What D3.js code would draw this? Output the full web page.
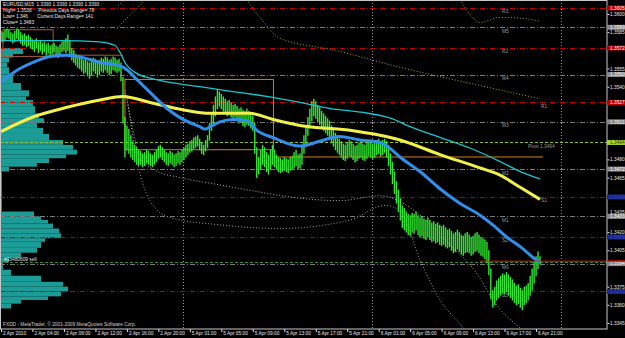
<!DOCTYPE html>
<html>
<head>
<meta charset="utf-8">
<script src="https://cdnjs.cloudflare.com/ajax/libs/d3/7.8.5/d3.min.js"></script>
<style>
  html, body { margin: 0; padding: 0; background: #000; }
  svg { display: block; }
  text { font-family: "Liberation Sans", Arial, sans-serif; }
</style>
</head>
<body>
<div id="chart"></div>
<script>
// EURUSD M15, 2 - 6 Apr 2010, one value per 15 minute bar
var barHigh = [
  1.3586,1.3585,1.3587,1.3588,1.3587,1.3585,1.3584,1.3586,1.3588,1.3587,1.3585,1.3583,1.3584,1.3582,1.3583,1.3581,
  1.3579,1.3578,1.3580,1.3577,1.3578,1.3576,1.3577,1.3575,1.3576,1.3574,1.3575,1.3576,1.3574,1.3573,1.3575,1.3577,
  1.3578,1.3580,1.3583,1.3578,1.3572,1.3570,1.3567,1.3565,1.3566,1.3564,1.3562,1.3563,1.3561,1.3560,1.3562,1.3564,
  1.3563,1.3561,1.3562,1.3564,1.3563,1.3565,1.3564,1.3562,1.3563,1.3565,1.3564,1.3562,1.3563,1.3560,1.3548,1.3515,
  1.3508,1.3505,1.3500,1.3495,1.3492,1.3490,1.3488,1.3487,1.3485,1.3486,1.3488,1.3487,1.3485,1.3484,1.3486,1.3488,
  1.3491,1.3492,1.3490,1.3488,1.3486,1.3485,1.3487,1.3486,1.3484,1.3485,1.3487,1.3486,1.3488,1.3490,1.3492,1.3493,
  1.3495,1.3496,1.3498,1.3499,1.3500,1.3497,1.3494,1.3492,1.3496,1.3500,1.3510,1.3518,1.3525,1.3532,1.3538,1.3536,
  1.3534,1.3532,1.3530,1.3528,1.3529,1.3527,1.3525,1.3526,1.3524,1.3522,1.3523,1.3521,1.3520,1.3522,1.3520,1.3518,
  1.3516,1.3510,1.3490,1.3482,1.3488,1.3492,1.3490,1.3486,1.3484,1.3488,1.3492,1.3488,1.3484,1.3482,1.3481,1.3480,
  1.3482,1.3481,1.3480,1.3482,1.3483,1.3486,1.3488,1.3484,1.3485,1.3492,1.3500,1.3508,1.3515,1.3522,1.3528,1.3530,
  1.3528,1.3525,1.3523,1.3520,1.3518,1.3516,1.3514,1.3512,1.3508,1.3505,1.3502,1.3500,1.3497,1.3495,1.3493,1.3492,
  1.3494,1.3496,1.3495,1.3493,1.3491,1.3492,1.3494,1.3495,1.3493,1.3492,1.3494,1.3496,1.3495,1.3493,1.3494,1.3496,
  1.3497,1.3495,1.3496,1.3497,1.3495,1.3492,1.3485,1.3478,1.3470,1.3462,1.3455,1.3448,1.3442,1.3440,1.3437,1.3435,
  1.3434,1.3436,1.3435,1.3437,1.3434,1.3432,1.3433,1.3431,1.3430,1.3432,1.3430,1.3428,1.3429,1.3427,1.3428,1.3426,
  1.3425,1.3426,1.3424,1.3422,1.3423,1.3421,1.3419,1.3420,1.3422,1.3420,1.3418,1.3417,1.3419,1.3420,1.3418,1.3416,
  1.3417,1.3419,1.3420,1.3418,1.3416,1.3415,1.3414,1.3412,1.3405,1.3390,1.3372,1.3375,1.3380,1.3382,1.3384,1.3386,
  1.3385,1.3387,1.3385,1.3383,1.3381,1.3378,1.3376,1.3377,1.3374,1.3372,1.3375,1.3376,1.3378,1.3384,1.3390,1.3396,
  1.3400,1.3404,1.3400
];
var barLow = [
  1.3578,1.3577,1.3579,1.3581,1.3580,1.3578,1.3576,1.3577,1.3580,1.3579,1.3576,1.3574,1.3575,1.3573,1.3574,1.3572,
  1.3571,1.3569,1.3572,1.3568,1.3570,1.3567,1.3569,1.3566,1.3568,1.3565,1.3567,1.3569,1.3566,1.3564,1.3567,1.3569,
  1.3570,1.3568,1.3570,1.3566,1.3562,1.3560,1.3558,1.3556,1.3555,1.3553,1.3551,1.3552,1.3549,1.3547,1.3550,1.3553,
  1.3551,1.3548,1.3550,1.3553,1.3552,1.3554,1.3552,1.3550,1.3551,1.3554,1.3553,1.3552,1.3553,1.3545,1.3510,1.3482,
  1.3488,1.3485,1.3482,1.3480,1.3478,1.3476,1.3475,1.3476,1.3474,1.3475,1.3477,1.3476,1.3475,1.3474,1.3476,1.3478,
  1.3481,1.3482,1.3480,1.3478,1.3476,1.3475,1.3477,1.3476,1.3474,1.3475,1.3477,1.3476,1.3478,1.3480,1.3482,1.3484,
  1.3486,1.3487,1.3489,1.3490,1.3491,1.3488,1.3485,1.3484,1.3487,1.3490,1.3496,1.3504,1.3510,1.3516,1.3522,1.3524,
  1.3522,1.3520,1.3518,1.3516,1.3517,1.3515,1.3514,1.3515,1.3512,1.3510,1.3511,1.3508,1.3507,1.3509,1.3508,1.3506,
  1.3504,1.3485,1.3465,1.3468,1.3472,1.3476,1.3474,1.3470,1.3468,1.3472,1.3476,1.3474,1.3472,1.3470,1.3469,1.3470,
  1.3471,1.3470,1.3469,1.3471,1.3472,1.3473,1.3475,1.3472,1.3473,1.3476,1.3485,1.3492,1.3500,1.3506,1.3512,1.3516,
  1.3514,1.3511,1.3509,1.3506,1.3504,1.3502,1.3500,1.3497,1.3494,1.3491,1.3488,1.3486,1.3484,1.3482,1.3480,1.3479,
  1.3481,1.3483,1.3482,1.3480,1.3478,1.3479,1.3481,1.3482,1.3480,1.3479,1.3481,1.3483,1.3482,1.3481,1.3482,1.3484,
  1.3485,1.3483,1.3484,1.3486,1.3482,1.3475,1.3468,1.3460,1.3452,1.3444,1.3437,1.3430,1.3424,1.3422,1.3420,1.3418,
  1.3417,1.3420,1.3419,1.3422,1.3418,1.3416,1.3417,1.3415,1.3414,1.3416,1.3414,1.3412,1.3413,1.3411,1.3412,1.3410,
  1.3409,1.3410,1.3408,1.3407,1.3408,1.3405,1.3403,1.3404,1.3406,1.3404,1.3402,1.3401,1.3403,1.3404,1.3403,1.3401,
  1.3402,1.3404,1.3405,1.3403,1.3401,1.3400,1.3398,1.3395,1.3385,1.3365,1.3358,1.3360,1.3364,1.3366,1.3368,1.3370,
  1.3369,1.3371,1.3368,1.3366,1.3364,1.3362,1.3360,1.3361,1.3358,1.3356,1.3360,1.3362,1.3364,1.3368,1.3372,1.3378,
  1.3384,1.3390,1.3394
];

// indicator lines, sampled [bar index, price]
var cyanMA = [[0,1.3578],[30,1.3578],[50,1.3577],[58,1.3574],[60.6,1.3568],[63,1.3560],[69,1.3551],[76,1.3547],
  [84.5,1.3544],[101,1.3540],[118,1.3536],[135,1.3532],[152,1.3527],[167.5,1.3522],[183,1.3519],[198,1.3514],
  [208,1.3507],[223.5,1.3498],[239,1.3489],[254,1.3478],[264,1.3470],[274,1.3464]];
var blueMA = [[0,1.3544],[8.6,1.3554],[16.3,1.3560],[25,1.3565],[33.6,1.3566],[41.7,1.3564],[50.3,1.3560],[59,1.3558],
  [64,1.3554],[69,1.3546],[76,1.3535],[84.4,1.3522],[92.5,1.3513],[101,1.3507],[103.7,1.3505],[106.3,1.3507],
  [111.3,1.3511],[118,1.3513],[125,1.3512],[130,1.3504],[138.3,1.3498],[152,1.3491],[162,1.3495],[172,1.3499],
  [182.5,1.3496],[192.7,1.3494],[197.8,1.3489],[202.8,1.3482],[213,1.3470],[223,1.3456],[233,1.3444],[243.5,1.3434],
  [250,1.3426],[257,1.3416],[264,1.3408],[270.5,1.3399],[274,1.3395]];
var yellowMA = [[0,1.3503],[16.3,1.3515],[33.6,1.3523],[50.3,1.3529],[62,1.3532],[75.8,1.3527],[92.5,1.3521],
  [106.3,1.3518],[126.6,1.3518],[138.3,1.3513],[152,1.3508],[177.4,1.3504],[202.8,1.3496],[223.2,1.3484],
  [243.5,1.3473],[253.7,1.3467],[263.9,1.3457],[274,1.3447]];

// dotted bands, several pieces each (parts run off the top or bottom of the chart)
var bandUpperOuter = [
  [[59.5,1.3607],[63,1.3613],[65.6,1.3620]],
  [[228,1.3630],[236,1.3605],[243.5,1.3593],[248.6,1.3595],[252,1.3597],[260,1.3597],[274,1.3594]]
];
var bandUpperInner = [
  [[59,1.3588],[63,1.3595],[68.1,1.3603],[73.2,1.3612],[78.3,1.3620]],
  [[121.5,1.3620],[131.7,1.3597],[141.8,1.3580],[170,1.3570],[202.8,1.3556],[243.5,1.3541],[274,1.3530]]
];
var bandLowerInner = [
  [[63,1.3537],[66.6,1.3508],[70.7,1.3481],[78.3,1.3471],[91,1.3465],[111.3,1.3459],[131.7,1.3453],[152,1.3448],
   [172.3,1.3446],[192.7,1.3450],[213,1.3434],[228.3,1.3409],[238.4,1.3393],[243.5,1.3382],[250.1,1.3364],[263.9,1.3341]]
];
var bandLowerOuter = [
  [[64,1.3533],[68.1,1.3488],[75.7,1.3446],[85.9,1.3432],[111.3,1.3426],[141.8,1.3423],[177.4,1.3430],[195.2,1.3442],
   [202.8,1.3438],[213,1.3397],[223.2,1.3364],[234.4,1.3342],[241,1.3327]]
];

// pivot levels of the previous day
var pivotNames  = ["R3","M5","R2","M4","R1","M3","Pivot","M2","S1","M1","S2","M0","S3"];
var pivotValues = [1.3605,1.3589,1.3572,1.3550,1.3527,1.3511,1.3494,1.3472,1.3449,1.3433,1.3416,1.3394,1.3371];

// session boxes [from bar, to bar, top price, bottom price]
var boxes = [[1,26.5,1.3587,1.3565],[63,138.5,1.3546,1.3488]];
var boxLines = [[26.5,62,1.3566],[138.5,275.5,1.3482]];
var boxColors = ["#a85a38", "#d08020"];

// price profile on the left edge: bin top and count, bins run down to the next top
var profileTop    = [1.3572,1.3567,1.3564,1.3560,1.3556,1.3550,1.3543,1.3537,1.3532,1.3529,1.3524,1.3518,1.3514,1.3510,
  1.3506,1.3501,1.3496,1.3492,1.3488,1.3484,1.3481,1.3477,1.3474,1.3470,1.3437,1.3433,1.3430,1.3427,1.3423,1.3419,1.3415,
  1.3412,1.3407,1.3403,1.3399,1.3395,1.3389,1.3384,1.3379,1.3375,1.3371,1.3367,1.3364,1.3361];
var profileCount  = [22,12,8,6,8,12,20,28,25,32,34,38,43,36,42,48,62,72,76,65,48,36,8,1,33,40,47,52,58,60,44,40,36,20,8,2,
  10,40,62,67,60,47,20,10];
var profileBottom = 1.3357;

// axes
var priceTicks = [1.3600,1.3585,1.3555,1.3540,1.3480,1.3465,1.3435,1.3420,1.3405,1.3375,1.3360,1.3345];
var timeTickBars = [0,16,32,48,64,80,96,112,128,144,160,176,192,208,224,240,256,272];
var timeLabels = ["2 Apr 2010","2 Apr 04:00","2 Apr 08:00","2 Apr 12:00","2 Apr 16:00","2 Apr 20:00",
  "5 Apr 01:00","5 Apr 05:00","5 Apr 09:00","5 Apr 13:00","5 Apr 17:00","5 Apr 21:00",
  "6 Apr 01:00","6 Apr 05:00","6 Apr 09:00","6 Apr 13:00","6 Apr 17:00","6 Apr 21:00"];
var daySeparators = [92.5, 188.5, 284.5];
var headerLines = ["EURUSD,M15  1.3393 1.3393 1.3393 1.3393",
  "High= 1.3538     Previous Days Range= 78",
  "Low= 1.346       Current Days Range= 141",
  "Close= 1.3483"];
var orderPrice = 1.3395, orderLabel = "#23480609 sell";
var bidPrice = 1.3396;

/* ---------- SVG ---------- */
var svgWidth = 625, svgHeight = 338;
var plotRight = 607, plotBottom = 329;

var svg = d3.select("#chart").append("svg")
    .attr("width", svgWidth)
    .attr("height", svgHeight)
    .style("background", "#000");

var xScale = d3.scaleLinear().domain([0, 274]).range([1, 540]);
var yScale = d3.scaleLinear().domain([1.3345, 1.3600]).range([323, 14]);
var fontSize = 4.8;

svg.append("defs").append("clipPath").attr("id", "plotClip")
  .append("rect").attr("x", 0).attr("y", 0).attr("width", plotRight).attr("height", plotBottom);
var plot = svg.append("g").attr("clip-path", "url(#plotClip)");

// day separators
plot.selectAll(".sep").data(daySeparators).enter().append("line")
    .attr("x1", d => Math.round(xScale(d)) + 0.5).attr("x2", d => Math.round(xScale(d)) + 0.5)
    .attr("y1", 0).attr("y2", plotBottom)
    .attr("stroke", "#9a9a9a").attr("stroke-width", 1).attr("stroke-dasharray", "1,2");

// price profile
var profileData = profileTop.map((t, i) => ({
  top: t, bottom: i < profileTop.length - 1 ? profileTop[i + 1] : profileBottom, count: profileCount[i]
}));
var wScale = d3.scaleLinear().domain([0, 100]).range([0, 100]);
plot.selectAll(".prof").data(profileData).enter().append("rect")
    .attr("x", 1)
    .attr("y", d => yScale(d.top))
    .attr("width", d => wScale(d.count))
    .attr("height", d => yScale(d.bottom) - yScale(d.top))
    .attr("fill", "#1b9c96");

// pivot lines
function pivotColor(n) {
  if (n === "Pivot") return "#8fbf2a";
  if (n[0] === "R") return "#c40000";
  if (n[0] === "S") return "#1f2f9c";
  return "#7a7a7a";
}
var pivots = pivotNames.map((n, i) => ({ name: n, value: pivotValues[i] }));
plot.selectAll(".piv").data(pivots).enter().append("line")
    .attr("x1", 0).attr("x2", plotRight)
    .attr("y1", d => Math.round(yScale(d.value)) + 0.5)
    .attr("y2", d => Math.round(yScale(d.value)) + 0.5)
    .attr("stroke", d => pivotColor(d.name))
    .attr("stroke-width", 1)
    .attr("stroke-dasharray", d => d.name === "Pivot" ? "3,2" : "5,2,1,2");

plot.selectAll(".pivTxt").data(pivots).enter().append("text")
    .attr("x", d => (d.name === "R1" || d.name === "S1") ? 541 : d.name === "Pivot" ? 528 : 502)
    .attr("y", d => yScale(d.value) + 5.5)
    .attr("fill", "#9a9a9a")
    .attr("font-size", fontSize)
    .text(d => d.name === "Pivot" ? "Pivot  " + d3.format(".4f")(d.value) : d.name);

// order line
plot.append("line")
    .attr("x1", 0).attr("x2", plotRight)
    .attr("y1", Math.round(yScale(orderPrice)) + 0.5).attr("y2", Math.round(yScale(orderPrice)) + 0.5)
    .attr("stroke", "#3c8c3c").attr("stroke-dasharray", "3,2");
plot.append("text").attr("x", 4).attr("y", yScale(orderPrice) - 1)
    .attr("fill", "#e0e0e0").attr("font-size", fontSize).text(orderLabel);

// dotted bands
var line = d3.line().x(d => xScale(d[0])).y(d => yScale(d[1])).curve(d3.curveMonotoneX);
[[bandUpperOuter, "#a8a830"], [bandUpperInner, "#a8a830"], [bandLowerInner, "#b0b0b0"], [bandLowerOuter, "#a0a0a0"]]
  .forEach(function(b) {
    b[0].forEach(function(piece) {
      plot.append("path").attr("d", line(piece)).attr("fill", "none")
          .attr("stroke", b[1]).attr("stroke-width", 1).attr("stroke-dasharray", "1,2");
    });
  });

// session boxes
plot.selectAll(".box").data(boxes).enter().append("rect")
    .attr("x", d => xScale(d[0])).attr("y", d => yScale(d[2]))
    .attr("width", d => xScale(d[1]) - xScale(d[0]))
    .attr("height", d => yScale(d[3]) - yScale(d[2]))
    .attr("fill", "none").attr("stroke", (d, i) => boxColors[i]).attr("stroke-width", 1);
plot.selectAll(".boxLine").data(boxLines).enter().append("line")
    .attr("x1", d => xScale(d[0])).attr("x2", d => xScale(d[1]))
    .attr("y1", d => yScale(d[2])).attr("y2", d => yScale(d[2]))
    .attr("stroke", (d, i) => boxColors[i]).attr("stroke-width", 1);

// price bars
plot.selectAll(".bar").data(barHigh).enter().append("line")
    .attr("x1", (d, i) => xScale(i))
    .attr("x2", (d, i) => xScale(i))
    .attr("y1", d => yScale(d))
    .attr("y2", (d, i) => yScale(barLow[i]) + 0.5)
    .attr("stroke", "#30e830").attr("stroke-width", 1.4);

// moving averages
plot.append("path").attr("d", line(cyanMA)).attr("fill", "none")
    .attr("stroke", "#19c6cf").attr("stroke-width", 1.3);
plot.append("path").attr("d", line(yellowMA)).attr("fill", "none")
    .attr("stroke", "#f2f04a").attr("stroke-width", 3);
plot.append("path").attr("d", line(blueMA)).attr("fill", "none")
    .attr("stroke", "#2f8fea").attr("stroke-width", 3);

// bid line
plot.append("line").attr("x1", 480).attr("x2", plotRight)
    .attr("y1", yScale(bidPrice)).attr("y2", yScale(bidPrice))
    .attr("stroke", "#ff1010").attr("stroke-width", 1);

// header
svg.selectAll(".hdr").data(headerLines).enter().append("text")
    .attr("x", 3).attr("y", (d, i) => 6 + i * 6)
    .attr("fill", "#e8e8e8").attr("font-size", fontSize)
    .attr("xml:space", "preserve").style("white-space", "pre")
    .text(d => d);
svg.append("text").attr("x", 3).attr("y", 326)
    .attr("fill", "#d0d0d0").attr("font-size", fontSize)
    .text("FXDD - MetaTrader, \u00a9 2001-2009 MetaQuotes Software Corp.");

// frame
svg.append("rect").attr("x", 0.5).attr("y", 0.5)
    .attr("width", plotRight - 0.5).attr("height", plotBottom - 0.5)
    .attr("fill", "none").attr("stroke", "#c8c8c8");

// price axis
var rightAxis = d3.axisRight(yScale).tickValues(priceTicks).tickFormat(d3.format(".4f")).tickSize(2);
var gY = svg.append("g").attr("transform", `translate(${plotRight + 0.5},0)`).call(rightAxis);
gY.select(".domain").remove();
gY.selectAll("line").attr("stroke", "#e0e0e0");
gY.selectAll("text").attr("fill", "#e8e8e8").attr("font-size", fontSize)
    .attr("font-family", "Liberation Sans, Arial, sans-serif").attr("x", 2.5)
    .attr("dy", d => d === 1.3435 ? "-0.05em" : "0.32em");

// level boxes on the price axis
function boxFill(n) {
  if (n === "Pivot") return "#a6d630";
  if (n[0] === "R") return "#c00000";
  if (n[0] === "S") return "#1c2a8a";
  return "#8a8a8a";
}
var lvl = svg.selectAll(".lvl").data(pivots).enter().append("g")
    .attr("transform", d => `translate(${plotRight},${yScale(d.value)})`);
lvl.append("rect").attr("x", 0).attr("y", -2.5).attr("width", svgWidth - plotRight).attr("height", 5)
    .attr("fill", d => boxFill(d.name));
lvl.append("text").attr("x", 3).attr("y", 1.7).attr("font-size", fontSize)
    .attr("fill", d => d.name === "Pivot" ? "#303000" : d.name[0] === "S" ? "#3040c0" : "#f0f0f0")
    .text(d => d3.format(".4f")(d.value));
svg.append("line").attr("x1", plotRight).attr("x2", svgWidth)
    .attr("y1", yScale(bidPrice)).attr("y2", yScale(bidPrice))
    .attr("stroke", "#ff1010").attr("stroke-width", 1.5);

// time axis
var bottomAxis = d3.axisBottom(xScale).tickValues(timeTickBars)
    .tickFormat((d, i) => timeLabels[i]).tickSize(3);
var gX = svg.append("g").attr("transform", `translate(0,${plotBottom})`).call(bottomAxis);
gX.select(".domain").remove();
gX.selectAll("line").attr("stroke", "#e0e0e0");
gX.selectAll("text").attr("fill", "#e8e8e8").attr("font-size", fontSize)
    .attr("font-family", "Liberation Sans, Arial, sans-serif")
    .attr("text-anchor", "start").attr("x", 1.5).attr("y", 3).attr("dy", "0.71em");
</script>
</body>
</html>
